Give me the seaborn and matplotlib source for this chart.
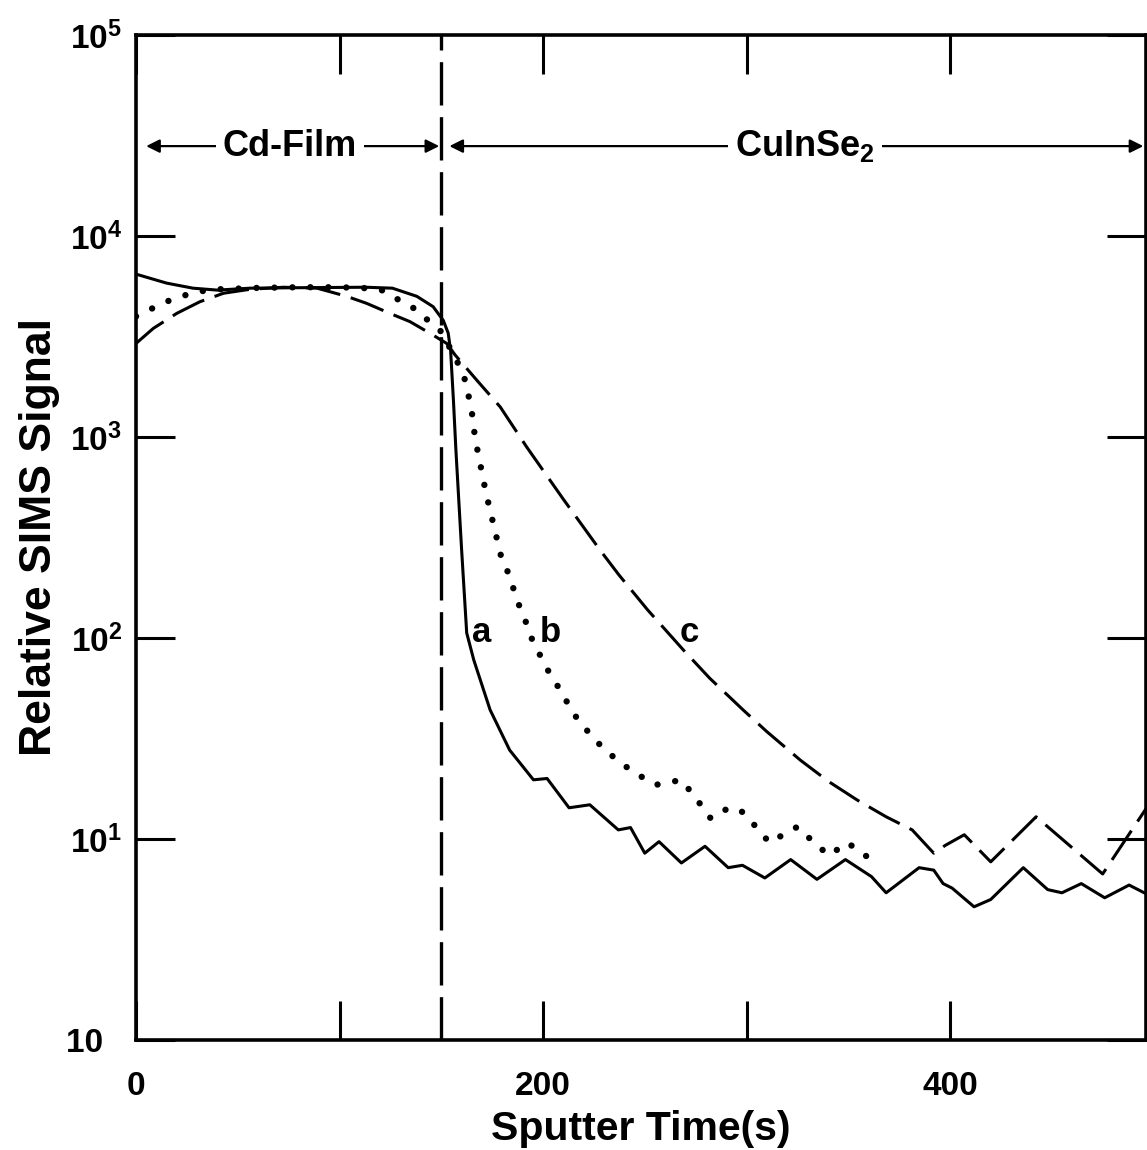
import matplotlib
matplotlib.use("Agg")
import matplotlib.pyplot as plt
from matplotlib.ticker import FixedLocator, NullLocator
import pandas as pd
import seaborn as sns

# Depth profiles of the Cd signal (sputter time in s, relative SIMS signal)
time_a = [0, 15, 28, 40, 56, 80, 113, 126, 138, 146, 151, 153.4, 154.6, 156, 157.2,
          160, 162.5, 166, 174, 183.6, 195.3, 202, 212.8, 223, 237, 243, 250, 257,
          268, 279.6, 291, 298, 309, 321.7, 334.6, 348.6, 361.4, 368.6, 384.8, 392,
          396.6, 401, 411.8, 420, 436, 448, 455, 464.5, 476, 488, 497]
signal_a = [6460, 5830, 5500, 5380, 5500, 5530, 5560, 5500, 5010, 4450, 3800, 3290,
            2690, 1510, 860, 275, 106, 77.6, 43.9, 27.7, 19.7, 20.0, 14.3, 14.8, 11.1,
            11.4, 8.5, 9.7, 7.6, 9.2, 7.2, 7.4, 6.4, 7.9, 6.3, 7.9, 6.5, 5.4, 7.2,
            7.0, 6.0, 5.7, 4.6, 5.0, 7.2, 5.6, 5.4, 6.0, 5.1, 5.9, 5.3]

time_b = [0, 3.6, 10, 16.7, 22.4, 29.8, 40, 60, 80, 100, 113, 120.7, 126, 132, 138,
          143.5, 149.4, 155, 160.7, 162.5, 164, 165.4, 166.6, 172, 176, 180, 183.5,
          185.4, 187.7, 190.6, 192.9, 195.2, 198.8, 201.8, 205.3, 209.3, 212.8, 217,
          221.7, 226.4, 232, 237.6, 244.2, 249.8, 255.4, 262, 267.8, 272, 276, 279.6,
          282.3, 286.6, 291, 296.6, 299.9, 304, 307.6, 311, 315.8, 321, 325, 328.7,
          332, 335.6, 340, 345, 349.7, 354.5, 359, 363.8]
signal_b = [3980, 4140, 4470, 4790, 5010, 5280, 5430, 5520, 5560, 5560, 5500, 5380,
            5010, 4630, 4290, 3800, 3400, 2690, 2080, 1780, 1500, 1260, 989, 525, 355,
            240, 206, 177, 150, 128, 110, 94.8, 81.3, 70.8, 61.7, 53.5, 45.9, 39.4,
            34.6, 30.5, 27.0, 24.1, 21.7, 20.0, 18.6, 19.1, 19.7, 17.5, 15.5, 13.9,
            12.7, 13.7, 14.1, 14.1, 12.9, 11.7, 10.7, 9.6, 10.2, 10.9, 11.5, 10.5,
            9.9, 9.2, 8.3, 8.9, 9.6, 8.8, 8.2, 7.4]

time_c = [0, 8.5, 20, 31.4, 43, 56, 72.4, 89, 103.5, 113.4, 124.8, 134.6, 144.5,
          152.7, 156.8, 167.4, 179, 192, 210, 228, 237.3, 251.4, 269, 281.9, 298.3,
          310, 326.4, 340.4, 354.5, 368.6, 381.4, 392, 397.7, 407, 420, 442.3, 475, 497]
signal_c = [2920, 3470, 4120, 4710, 5190, 5430, 5560, 5500, 5010, 4620, 4120, 3750,
            3280, 2920, 2560, 1920, 1410, 891, 490, 274, 206, 138, 87.1, 63.1, 43.9,
            34.2, 24.7, 19.3, 15.6, 12.9, 11.1, 8.5, 9.3, 10.5, 7.7, 12.9, 6.7, 14.5]

curve_names = ["a", "b", "c"]
curve_label_time = [170, 203.4, 272]
curve_label_signal = [106, 106, 106]

interface_time = 150
region_names = ["Cd-Film", "CuInSe$_2$"]
region_spans = [(5, 149), (154, 495)]
region_label_time = [75.7, 328.7]
region_level = 2.8e4

x_ticks = [0, 100, 200, 300, 400]
x_tick_labels = ["0", "", "200", "", "400"]
y_ticks = [1, 10, 100, 1e3, 1e4, 1e5]
y_tick_labels = ["10  ", "$10^{1}$", "$10^{2}$", "$10^{3}$", "$10^{4}$", "$10^{5}$"]

sns.set_style("white")
plt.rcParams["font.family"] = ["Liberation Sans", "DejaVu Sans"]
plt.rcParams["font.weight"] = "bold"
plt.rcParams["text.color"] = "black"
plt.rcParams["axes.labelcolor"] = "black"
plt.rcParams["xtick.color"] = "black"
plt.rcParams["ytick.color"] = "black"
plt.rcParams["mathtext.fontset"] = "custom"
plt.rcParams["mathtext.rm"] = "Liberation Sans:bold"
plt.rcParams["mathtext.bf"] = "Liberation Sans:bold"
plt.rcParams["mathtext.it"] = "Liberation Sans:bold"

fig = plt.figure(figsize=(11.47, 11.5), dpi=100)
ax = fig.add_axes([0.11857, 0.09565, 0.88056, 0.87392])

df_a = pd.DataFrame({"time": time_a, "signal": signal_a})
df_b = pd.DataFrame({"time": time_b, "signal": signal_b})
df_c = pd.DataFrame({"time": time_c, "signal": signal_c})

sns.lineplot(data=df_a, x="time", y="signal", ax=ax, color="black", lw=2.2,
             estimator=None, sort=False)
sns.lineplot(data=df_b, x="time", y="signal", ax=ax, color="black", lw=4.6,
             linestyle=(0, (0.01, 2.8)), dash_capstyle="round",
             estimator=None, sort=False)
sns.lineplot(data=df_c, x="time", y="signal", ax=ax, color="black", lw=2.2,
             linestyle=(0, (11.5, 3.6)), estimator=None, sort=False)

ax.axvline(interface_time, color="black", lw=2.4, linestyle=(0, (13, 3.5)))

ax.set_yscale("log")
ax.set_xlim(0, 496.3)
ax.set_ylim(1, 1e5)
ax.xaxis.set_major_locator(FixedLocator(x_ticks))
ax.set_xticklabels(x_tick_labels)
ax.yaxis.set_major_locator(FixedLocator(y_ticks))
ax.yaxis.set_minor_locator(NullLocator())
ax.set_yticklabels(y_tick_labels)

ax.tick_params(axis="both", which="major", direction="in", length=28, width=2.2,
               top=True, right=True, bottom=True, left=True,
               labelsize=24, colors="black")
ax.tick_params(axis="x", pad=22)
ax.tick_params(axis="y", pad=10)
for spine in ax.spines.values():
    spine.set_visible(True)
    spine.set_linewidth(2.6)
    spine.set_color("black")

ax.set_xlabel("Sputter Time(s)", fontsize=29.5, fontweight="bold", labelpad=6)
ax.set_ylabel("Relative SIMS Signal", fontsize=32, fontweight="bold", labelpad=5)

for name, (t0, t1), tx in zip(region_names, region_spans, region_label_time):
    ax.annotate("", xy=(t0, region_level), xytext=(t1, region_level),
                arrowprops=dict(arrowstyle="<|-|>", color="black", lw=1.6,
                                mutation_scale=20, shrinkA=0, shrinkB=0))
    ax.text(tx, region_level, name, ha="center", va="center", fontsize=26,
            fontweight="bold",
            bbox=dict(facecolor="white", edgecolor="none", pad=5))

for name, tx, sy in zip(curve_names, curve_label_time, curve_label_signal):
    ax.text(tx, sy, name, ha="center", va="center", fontsize=25, fontweight="bold")

fig.savefig("out.png", dpi=100, facecolor="white")
